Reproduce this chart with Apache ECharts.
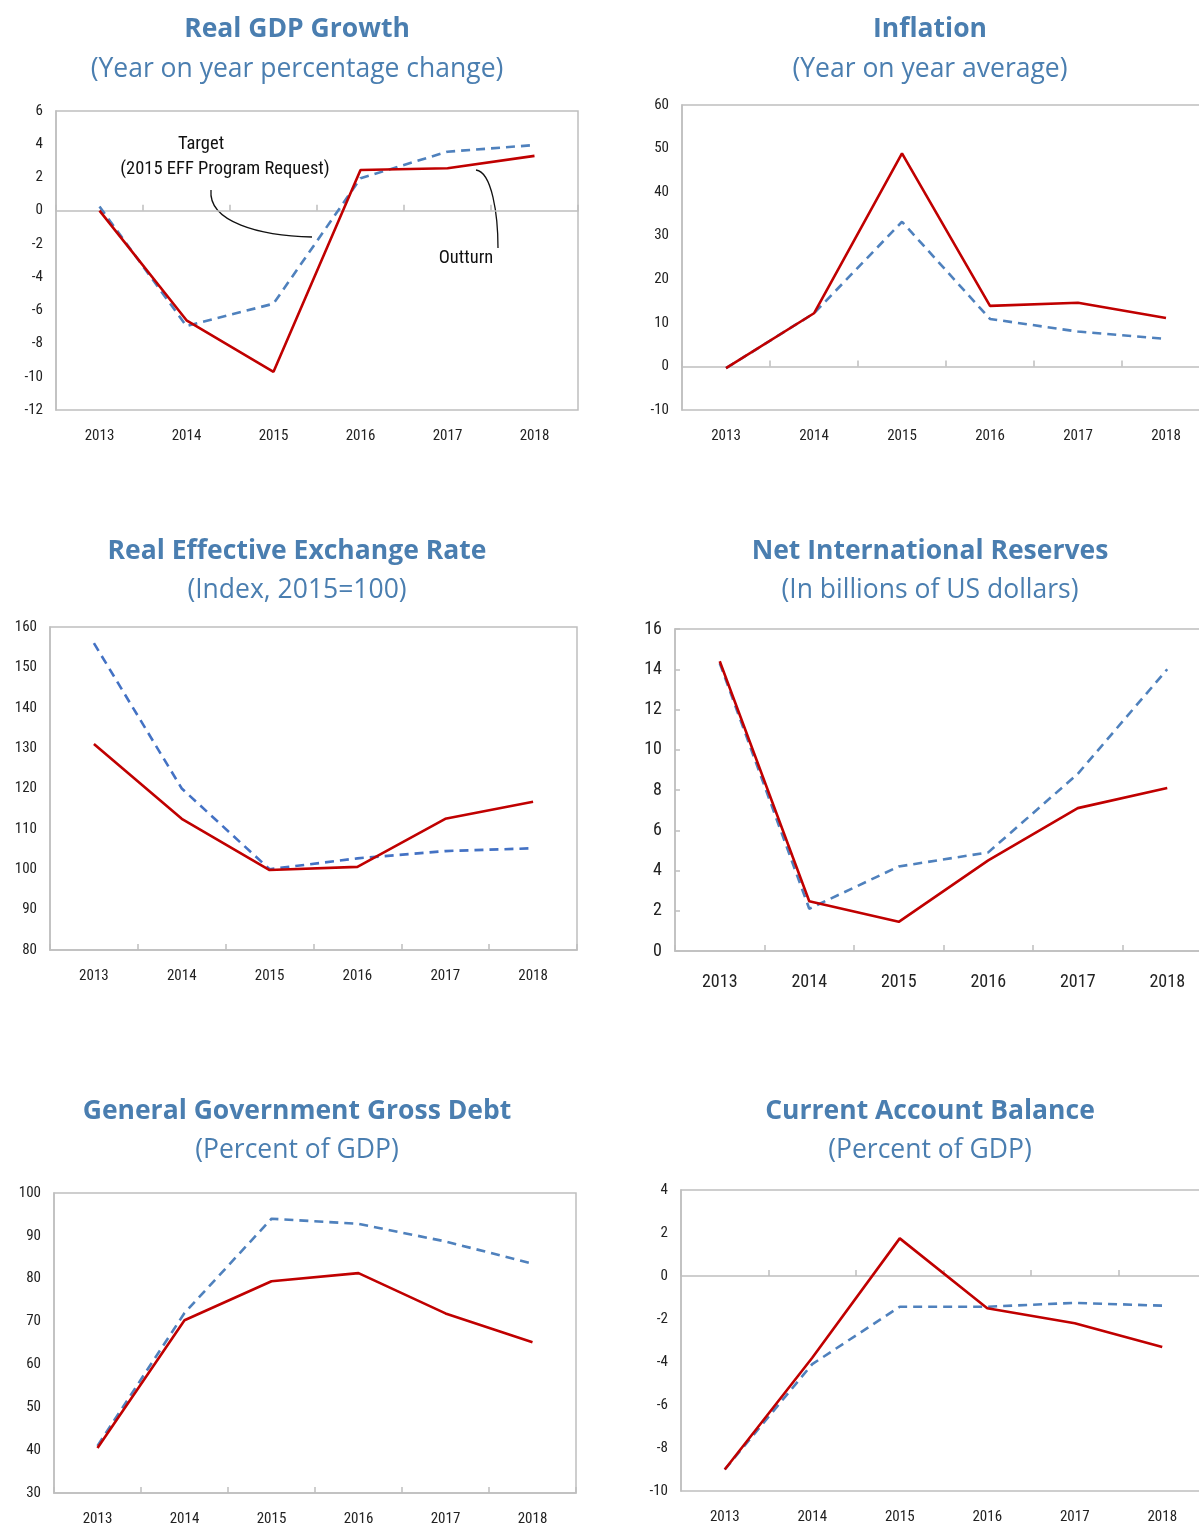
<!DOCTYPE html>
<html>
<head>
<meta charset="utf-8">
<script src="https://cdn.jsdelivr.net/npm/echarts@6/dist/echarts.min.js"></script>
<style>
html,body{margin:0;padding:0;background:#fff;overflow:hidden;}
#c{width:1240px;height:1527px;}
</style>
</head>
<body>
<div id="c"></div>
<script>
// ---------- DATA ----------
const years = ['2013','2014','2015','2016','2017','2018'];

const gdpOutturn = [0, -6.6, -9.7, 2.45, 2.55, 3.3];
const gdpTarget  = [0.25, -6.95, -5.6, 1.95, 3.55, 3.95];

const inflOutturn = [-0.4, 12.2, 48.9, 13.9, 14.6, 11.1];
const inflTarget  = [-0.4, 12.2, 33.2, 10.9, 8.0, 6.3];

const reerOutturn = [131.0, 112.5, 99.8, 100.6, 112.5, 116.7];
const reerTarget  = [156.0, 120.0, 100.0, 102.7, 104.5, 105.2];

const nirOutturn = [14.4, 2.47, 1.45, 4.5, 7.1, 8.1];
const nirTarget  = [14.3, 2.1, 4.2, 4.9, 8.8, 14.0];

const debtOutturn = [40.5, 70.3, 79.4, 81.3, 71.9, 65.2];
const debtTarget  = [41.0, 72.0, 94.0, 92.8, 88.7, 83.5];

const cabOutturn = [-9.0, -3.8, 1.75, -1.5, -2.2, -3.3];
const cabTarget  = [-9.0, -4.1, -1.43, -1.43, -1.25, -1.38];

const titles = ['Real GDP Growth','Inflation','Real Effective Exchange Rate','Net International Reserves','General Government Gross Debt','Current Account Balance'];
const subtitles = ['(Year on year percentage change)','(Year on year average)','(Index, 2015=100)','(In billions of US dollars)','(Percent of GDP)','(Percent of GDP)'];

const annTarget1 = 'Target';
const annTarget2 = '(2015 EFF Program Request)';
const annOutturn = 'Outturn';

// ---------- LAYOUT ----------
const panels = [
  {grid:{left:56, top:111, width:522, height:299}, y:{min:-12,max:6,interval:2}, out:gdpOutturn, tgt:gdpTarget, zero:true, fs:15, cx:297, ty:16, sy:56, tc:'#4f81bd'},
  {grid:{left:682,top:105, width:528, height:305}, y:{min:-10,max:60,interval:10}, out:inflOutturn, tgt:inflTarget, zero:true, fs:15, cx:930, ty:16, sy:56, tc:'#4f81bd'},
  {grid:{left:50, top:627, width:527, height:323}, y:{min:80,max:160,interval:10}, out:reerOutturn, tgt:reerTarget, zero:false, fs:15, cx:297, ty:538, sy:577, tc:'#4472c4'},
  {grid:{left:675,top:629, width:537, height:322}, y:{min:0,max:16,interval:2}, out:nirOutturn, tgt:nirTarget, zero:false, fs:18, cx:930, ty:538, sy:577, tc:'#4f81bd', yTicks:true},
  {grid:{left:54, top:1193, width:522, height:301}, y:{min:30,max:100,interval:10}, out:debtOutturn, tgt:debtTarget, zero:false, fs:15, cx:297, ty:1098, sy:1137, tc:'#4f81bd'},
  {grid:{left:681,top:1190, width:525, height:301}, y:{min:-10,max:4,interval:2}, out:cabOutturn, tgt:cabTarget, zero:true, fs:15, cx:930, ty:1098, sy:1137, tc:'#4f81bd'}
];

const labelFont = '"Liberation Sans Narrow","Arial Narrow","Roboto Condensed",sans-serif';
const titleFont = '"Open Sans","Noto Sans",sans-serif';
const axisGray = '#bfbfbf';

const option = {
  animation:false,
  backgroundColor:'#fff',
  title:[], grid:[], xAxis:[], yAxis:[], series:[], graphic:[]
};

panels.forEach((p,i)=>{
  option.title.push({text:titles[i], left:p.cx, top:p.ty, textAlign:'center', padding:0,
    textStyle:{fontFamily:titleFont, fontWeight:'bold', fontSize:26.5, color:'#4a7eb0'}});
  option.title.push({text:subtitles[i], left:p.cx, top:p.sy, textAlign:'center', padding:0,
    textStyle:{fontFamily:titleFont, fontWeight:'normal', fontSize:26.5, color:'#4a7eb0'}});
  option.grid.push(Object.assign({show:true, borderColor:axisGray, borderWidth:1.5, backgroundColor:'transparent'}, p.grid));
  option.xAxis.push({type:'category', data:years, gridIndex:i, boundaryGap:true, position:'bottom',
    axisLine:{show:!p.zero, onZero:false, lineStyle:{color:axisGray, width:1.5}},
    axisTick:{show:!p.zero, inside:true, length:6, lineStyle:{color:axisGray, width:1.5}},
    axisLabel:{color:'#222', fontFamily:labelFont, fontSize:p.fs, margin: p.fs>15?22:19},
    splitLine:{show:false}});
  option.yAxis.push({type:'value', gridIndex:i, min:p.y.min, max:p.y.max, interval:p.y.interval,
    axisLine:{show:true, lineStyle:{color:axisGray, width:1.5}},
    axisTick:{show:!!p.yTicks, inside:true, length:5, lineStyle:{color:axisGray, width:1.5}},
    axisLabel:{color:'#222', fontFamily:labelFont, fontSize:p.fs, margin:13},
    splitLine:{show:false}});
});
// zero-line axes (with ticks) for panels that cross zero
panels.forEach((p,i)=>{
  if(!p.zero) return;
  option.xAxis.push({type:'category', data:years, gridIndex:i, boundaryGap:true, position:'bottom',
    axisLine:{show:true, onZero:true, lineStyle:{color:axisGray, width:1.5}},
    axisTick:{show:true, inside:true, length:6, lineStyle:{color:axisGray, width:1.5}},
    axisLabel:{show:false}, splitLine:{show:false}});
});
panels.forEach((p,i)=>{
  option.series.push({type:'line', name:'Target', xAxisIndex:i, yAxisIndex:i, data:p.tgt,
    symbol:'none', lineStyle:{color:p.tc, width:2.6, type:[9,6]}, z:2});
  option.series.push({type:'line', name:'Outturn', xAxisIndex:i, yAxisIndex:i, data:p.out,
    symbol:'none', lineStyle:{color:'#c00000', width:2.6}, z:3});
});

// annotations for GDP panel
const annFont = '18.5px ' + labelFont;
option.graphic = [
  {type:'text', position:[201,144], style:{text:annTarget1, x:0, y:0, textAlign:'center', textVerticalAlign:'middle', font:annFont, fill:'#111'}},
  {type:'text', position:[225,169], style:{text:annTarget2, x:0, y:0, textAlign:'center', textVerticalAlign:'middle', font:annFont, fill:'#111'}},
  {type:'bezierCurve', shape:{x1:211,y1:190,cpx1:208,cpy1:222,cpx2:260,cpy2:236,x2:312,y2:237}, style:{stroke:'#111', lineWidth:1.3, fill:null}},
  {type:'text', position:[466,258], style:{text:annOutturn, x:0, y:0, textAlign:'center', textVerticalAlign:'middle', font:annFont, fill:'#111'}},
  {type:'bezierCurve', shape:{x1:476,y1:170,cpx1:492,cpy1:172,cpx2:498,cpy2:215,x2:498,y2:248}, style:{stroke:'#111', lineWidth:1.3, fill:null}}
];

const chart = echarts.init(document.getElementById('c'), null, {renderer:'canvas'});
chart.setOption(option);
</script>
</body>
</html>
